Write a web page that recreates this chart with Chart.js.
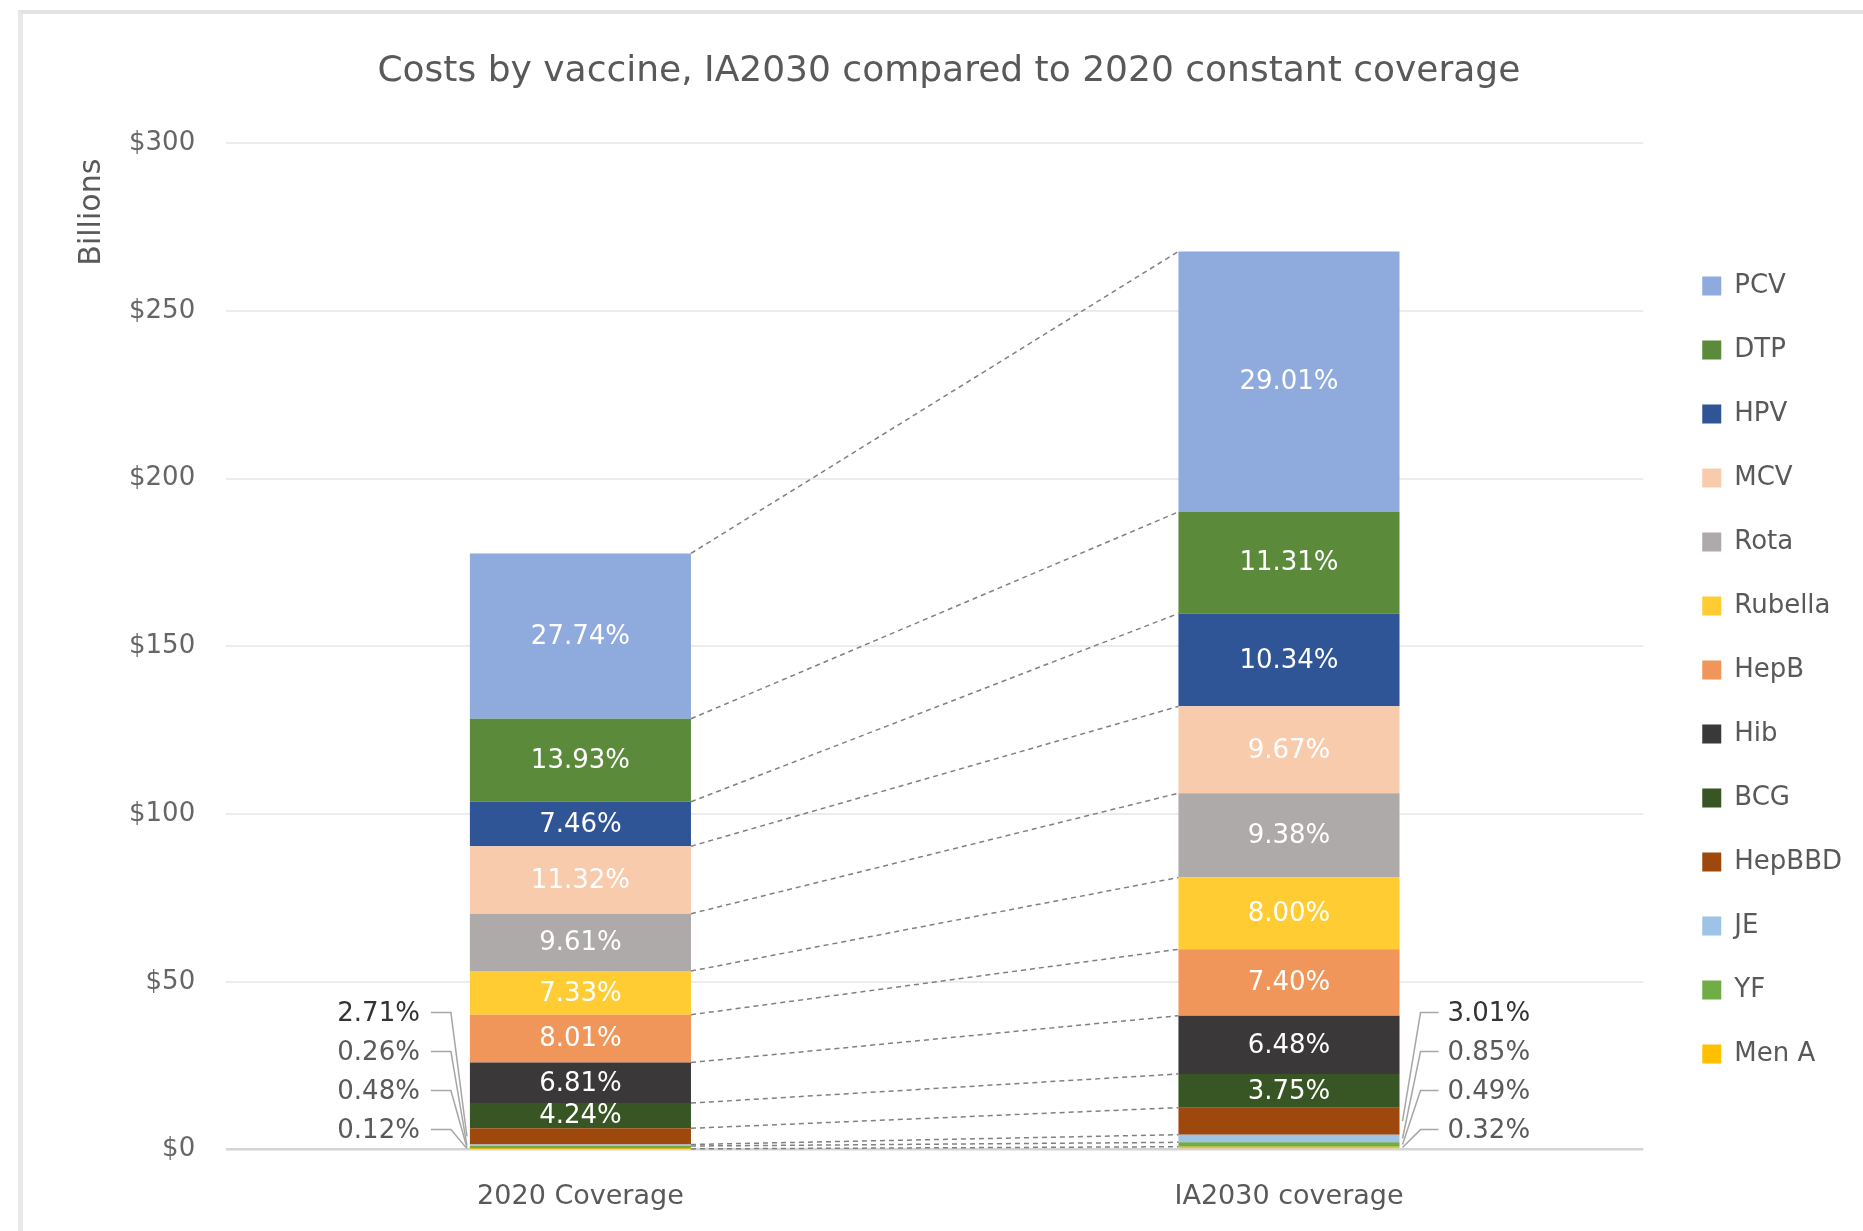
<!DOCTYPE html>
<html><head><meta charset="utf-8">
<script src="https://cdn.jsdelivr.net/npm/chart.js@4.4.1/dist/chart.umd.min.js"></script>
<style>
html,body{margin:0;padding:0;background:#fff;overflow:hidden;}
#frame{position:absolute;left:18px;top:10px;width:1900px;height:1300px;border-top:4px solid #e3e3e3;border-left:5px solid #e8e8e8;box-sizing:border-box;}
#wrap{position:absolute;left:0;top:0;width:1863px;height:1231px;}
</style></head><body>
<div id="frame"></div>
<div id="wrap"><canvas id="c"></canvas></div>
<script>
// ---- data ----
const categories = ['2020 Coverage', 'IA2030 coverage'];
const yTickValues = [0, 50, 100, 150, 200, 250, 300];
// cost in $ billions (bottom of stack first)
const costMenA    = [0.21, 0.86];
const costYF      = [0.85, 1.31];
const costJE      = [0.46, 2.28];
const costHepBBD  = [4.82, 8.06];
const costBCG     = [7.53, 10.04];
const costHib     = [12.10, 17.35];
const costHepB    = [14.23, 19.81];
const costRubella = [13.03, 21.42];
const costRota    = [17.08, 25.11];
const costMCV     = [20.12, 25.89];
const costHPV     = [13.26, 27.68];
const costDTP     = [24.75, 30.28];
const costPCV     = [49.29, 77.66];
// share labels (% of total)
const pctMenA    = ['0.12%', '0.32%'];
const pctYF      = ['0.48%', '0.49%'];
const pctJE      = ['0.26%', '0.85%'];
const pctHepBBD  = ['2.71%', '3.01%'];
const pctBCG     = ['4.24%', '3.75%'];
const pctHib     = ['6.81%', '6.48%'];
const pctHepB    = ['8.01%', '7.40%'];
const pctRubella = ['7.33%', '8.00%'];
const pctRota    = ['9.61%', '9.38%'];
const pctMCV     = ['11.32%', '9.67%'];
const pctHPV     = ['7.46%', '10.34%'];
const pctDTP     = ['13.93%', '11.31%'];
const pctPCV     = ['27.74%', '29.01%'];

const seriesNames  = ['Men A','YF','JE','HepBBD','BCG','Hib','HepB','Rubella','Rota','MCV','HPV','DTP','PCV'];
const seriesValues = [costMenA,costYF,costJE,costHepBBD,costBCG,costHib,costHepB,costRubella,costRota,costMCV,costHPV,costDTP,costPCV];
const seriesPct    = [pctMenA,pctYF,pctJE,pctHepBBD,pctBCG,pctHib,pctHepB,pctRubella,pctRota,pctMCV,pctHPV,pctDTP,pctPCV];
const seriesColors = ['#FFC000','#70AD47','#9DC3E6','#9E480E','#375623','#3A3838','#F0965A','#FFCD33','#AEAAAA','#F8CBAD','#2F5597','#5B8A3A','#8FAADC'];
const outsideCount = 4; // the four smallest series get callout labels

const FONT = "'DejaVu Sans', sans-serif";

const spacerPlugin = {
  id: 'rightSpacer',
  beforeInit(chart) {
    Chart.layouts.addBox(chart, {
      position: 'right', weight: 0, fullSize: false, options: {},
      left: 0, top: 0, right: 0, bottom: 0, width: 0, height: 0,
      isHorizontal() { return false; },
      update(maxWidth, maxHeight) { this.width = 21; this.height = maxHeight; },
      draw() {}
    });
  }
};

const annotPlugin = {
  id: 'annot',
  afterDatasetsDraw(chart) {
    const ctx = chart.ctx;
    const n = chart.data.datasets.length;
    const bottom = chart.scales.y.getPixelForValue(0);
    ctx.save();
    // series lines
    ctx.strokeStyle = '#808080'; ctx.lineWidth = 1.5; ctx.setLineDash([5, 4]);
    for (let i = 0; i < n; i++) {
      const m = chart.getDatasetMeta(i);
      const a = m.data[0], b = m.data[1];
      ctx.beginPath();
      ctx.moveTo(a.x + a.width / 2, a.y);
      ctx.lineTo(b.x - b.width / 2, b.y);
      ctx.stroke();
    }
    ctx.setLineDash([]);
    // inside labels
    ctx.font = '26px ' + FONT;
    ctx.textAlign = 'center'; ctx.textBaseline = 'middle';
    ctx.fillStyle = '#ffffff';
    for (let i = outsideCount; i < n; i++) {
      const m = chart.getDatasetMeta(i);
      m.data.forEach((el, j) => {
        ctx.fillText(seriesPct[i][j], el.x, (el.y + el.base) / 2 + 1);
      });
    }
    // callout labels
    ctx.strokeStyle = '#a6a6a6'; ctx.lineWidth = 1.5;
    for (let i = 0; i < outsideCount; i++) {
      const m = chart.getDatasetMeta(i);
      const ly = bottom - 18 - i * 39;
      ctx.fillStyle = (i === outsideCount - 1) ? '#333333' : '#5a5a5a';
      // left bar: labels on the left
      const a = m.data[0];
      const aLeft = a.x - a.width / 2;
      const tx0 = aLeft - 50;
      ctx.textAlign = 'right';
      ctx.fillText(seriesPct[i][0], tx0, ly);
      ctx.beginPath();
      ctx.moveTo(tx0 + 11, ly - 2);
      ctx.lineTo(tx0 + 31, ly - 2);
      ctx.lineTo(aLeft - 3, (a.y + a.base) / 2);
      ctx.stroke();
      // right bar: labels on the right
      const b = m.data[1];
      const bRight = b.x + b.width / 2;
      const tx1 = bRight + 48;
      ctx.textAlign = 'left';
      ctx.fillText(seriesPct[i][1], tx1, ly);
      ctx.beginPath();
      ctx.moveTo(tx1 - 9, ly - 2);
      ctx.lineTo(tx1 - 27, ly - 2);
      ctx.lineTo(bRight + 3, (b.y + b.base) / 2);
      ctx.stroke();
    }
    ctx.restore();
  }
};

const datasets = seriesNames.map((name, i) => ({
  label: name,
  data: seriesValues[i],
  backgroundColor: seriesColors[i],
  borderWidth: 0,
  barPercentage: 0.312,
  categoryPercentage: 1.0
}));

new Chart(document.getElementById('c'), {
  type: 'bar',
  data: { labels: categories, datasets },
  plugins: [spacerPlugin, annotPlugin],
  options: {
    responsive: true,
    maintainAspectRatio: false,
    animation: false,
    layout: { padding: { left: 0, right: 11, top: 0, bottom: -13 } },
    plugins: {
      title: {
        display: true,
        text: '    Costs by vaccine, IA2030 compared to 2020 constant coverage',
        color: '#595959',
        font: { family: FONT, size: 36, weight: 'normal', lineHeight: 1.2 },
        padding: { top: 50, bottom: 50 }
      },
      legend: {
        position: 'right',
        reverse: true,
        title: { display: true, text: ' ', font: { size: 10, lineHeight: 1.2 }, padding: { top: 84, bottom: 0 } },
        labels: {
          boxWidth: 19, boxHeight: 19, padding: 38,
          color: '#595959',
          font: { family: FONT, size: 26 }
        }
      },
      tooltip: { enabled: false }
    },
    scales: {
      x: {
        stacked: true,
        grid: { display: false, drawTicks: false },
        border: { display: false },
        ticks: { color: '#595959', font: { family: FONT, size: 27 }, padding: 31 }
      },
      y: {
        stacked: true,
        min: 0, max: 300,
        afterBuildTicks(scale) { scale.ticks = yTickValues.map(v => ({ value: v })); },
        grid: {
          drawTicks: false,
          color: (c) => (c.tick && c.tick.value === 0) ? '#d4d4d4' : '#ececec',
          lineWidth: (c) => (c.tick && c.tick.value === 0) ? 2.5 : 2
        },
        border: { display: false },
        ticks: {
          color: '#666666',
          font: { family: FONT, size: 26 },
          padding: 31,
          callback: (v) => '$' + v
        },
        title: {
          display: true,
          text: 'Billions \u2009',
          align: 'end',
          color: '#595959',
          font: { family: FONT, size: 30, lineHeight: 1.2 },
          padding: { top: 74, bottom: -12 }
        }
      }
    }
  }
});
</script>
</body></html>
